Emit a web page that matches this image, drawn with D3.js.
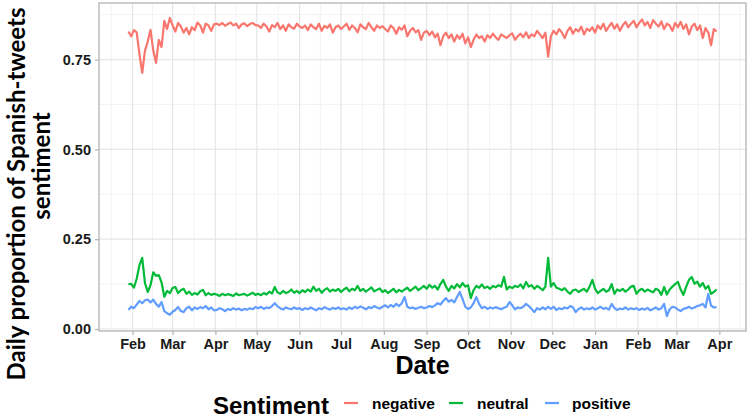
<!DOCTYPE html>
<html>
<head>
<meta charset="utf-8">
<script src="https://cdn.jsdelivr.net/npm/d3@7"></script>
<style>
  body { margin: 0; background: #fff; }
  #chart { width: 749px; height: 418px; }
</style>
</head>
<body>
<div id="chart"></div>
<script>
// daily proportions, one reading every 2 days from 2020-01-29 to 2021-03-30
let startDate = new Date(2020, 0, 29);
let stepDays = 2;

let negative = [
    0.828,0.815,0.832,0.826,0.765,0.713,0.775,0.800,0.833,0.775,0.741,0.805,0.785,0.858,0.835,0.866,
    0.845,0.828,0.852,0.842,0.825,0.838,0.820,0.840,0.832,0.853,0.845,0.825,0.850,0.845,0.830,0.848,
    0.850,0.846,0.852,0.844,0.849,0.853,0.845,0.850,0.838,0.848,0.851,0.843,0.849,0.852,0.846,
    0.845,0.838,0.850,0.842,0.828,0.846,0.840,0.852,0.835,0.845,0.830,0.848,0.840,0.836,0.850,0.842,
    0.838,0.845,0.832,0.848,0.840,0.835,0.850,0.830,0.844,0.838,0.848,0.825,0.840,0.845,0.835,
    0.842,0.850,0.833,0.845,0.838,0.826,0.848,0.840,0.835,0.852,0.840,0.830,0.845,0.838,0.843,
    0.835,0.828,0.845,0.838,0.822,0.840,0.833,0.845,0.815,0.830,0.838,0.826,0.832,0.805,0.825,
    0.830,0.818,0.828,0.812,0.822,0.790,0.815,0.825,0.810,0.820,0.800,0.818,0.808,0.822,0.795,
    0.812,0.785,0.805,0.820,0.810,0.815,0.800,0.818,0.810,0.822,0.812,0.805,0.820,0.815,0.810,
    0.818,0.823,0.805,0.815,0.822,0.812,0.826,0.810,0.820,0.815,0.830,0.820,0.810,0.825,0.758,
    0.815,0.830,0.820,0.835,0.825,0.810,0.830,0.840,0.822,0.835,0.828,0.842,0.820,0.836,0.830,
    0.840,0.825,0.845,0.835,0.850,0.830,0.842,0.852,0.836,0.848,0.830,0.845,0.855,0.840,0.850,
    0.858,0.840,0.852,0.862,0.845,0.855,0.838,0.860,0.850,0.842,0.856,0.835,0.850,0.845,0.830,
    0.852,0.840,0.855,0.835,0.848,0.820,0.842,0.850,0.832,0.845,0.810,0.838,0.825,0.790,0.835,0.828
];

let neutral = [
    0.125,0.126,0.115,0.140,0.178,0.198,0.128,0.103,0.122,0.158,0.148,0.150,0.130,0.090,0.106,0.100,
    0.114,0.117,0.100,0.108,0.112,0.098,0.104,0.095,0.100,0.096,0.105,0.109,0.094,0.100,0.095,0.098,
    0.096,0.092,0.098,0.094,0.097,0.095,0.092,0.099,0.094,0.096,0.098,0.093,0.097,0.101,0.095,
    0.098,0.094,0.100,0.096,0.104,0.099,0.117,0.102,0.098,0.106,0.100,0.103,0.110,0.101,0.106,0.100,
    0.108,0.103,0.110,0.104,0.118,0.106,0.112,0.101,0.109,0.114,0.104,0.110,0.106,0.112,0.103,
    0.110,0.115,0.105,0.112,0.108,0.120,0.106,0.112,0.104,0.110,0.116,0.105,0.109,0.113,0.103,
    0.108,0.100,0.106,0.112,0.102,0.109,0.104,0.110,0.115,0.106,0.112,0.118,0.108,0.114,0.120,
    0.112,0.123,0.115,0.120,0.110,0.125,0.137,0.118,0.106,0.120,0.113,0.125,0.116,0.128,0.118,
    0.122,0.086,0.108,0.120,0.115,0.124,0.114,0.118,0.112,0.120,0.116,0.122,0.118,0.145,0.110,
    0.118,0.114,0.120,0.117,0.124,0.113,0.131,0.118,0.122,0.112,0.120,0.115,0.108,0.118,0.198,
    0.118,0.128,0.115,0.112,0.108,0.114,0.104,0.098,0.108,0.110,0.103,0.108,0.112,0.104,0.118,
    0.137,0.112,0.100,0.106,0.112,0.104,0.108,0.125,0.098,0.110,0.106,0.112,0.104,0.110,0.118,
    0.120,0.098,0.108,0.112,0.104,0.110,0.106,0.102,0.112,0.108,0.095,0.117,0.096,0.110,0.118,
    0.125,0.131,0.110,0.095,0.118,0.137,0.145,0.126,0.132,0.118,0.128,0.112,0.120,0.098,0.103,0.110
];

let positive = [
    0.053,0.062,0.058,0.068,0.078,0.072,0.080,0.082,0.074,0.082,0.070,0.062,0.075,0.050,0.044,0.040,
    0.048,0.053,0.061,0.050,0.047,0.058,0.062,0.052,0.060,0.056,0.061,0.058,0.064,0.055,0.060,0.052,
    0.053,0.058,0.055,0.050,0.056,0.053,0.058,0.054,0.057,0.052,0.056,0.054,0.058,0.055,0.061,
    0.058,0.062,0.056,0.060,0.058,0.064,0.072,0.063,0.058,0.054,0.060,0.057,0.055,0.060,0.056,0.058,
    0.053,0.058,0.055,0.060,0.056,0.052,0.058,0.055,0.061,0.057,0.054,0.059,0.056,0.060,0.055,
    0.058,0.054,0.060,0.056,0.062,0.058,0.063,0.059,0.055,0.061,0.058,0.064,0.060,0.057,0.062,
    0.066,0.060,0.067,0.062,0.070,0.064,0.072,0.089,0.062,0.058,0.060,0.056,0.059,0.062,0.058,
    0.060,0.064,0.061,0.066,0.072,0.068,0.078,0.086,0.076,0.081,0.074,0.089,0.103,0.084,0.062,
    0.056,0.060,0.072,0.089,0.070,0.058,0.062,0.056,0.060,0.057,0.061,0.058,0.055,0.059,0.062,
    0.075,0.066,0.055,0.060,0.058,0.062,0.070,0.064,0.056,0.047,0.058,0.054,0.060,0.055,0.062,
    0.056,0.062,0.053,0.058,0.055,0.060,0.057,0.064,0.060,0.047,0.056,0.060,0.054,0.058,0.055,
    0.060,0.054,0.058,0.062,0.056,0.059,0.054,0.070,0.058,0.053,0.057,0.055,0.060,0.054,0.058,
    0.055,0.058,0.053,0.057,0.054,0.059,0.052,0.056,0.060,0.054,0.058,0.070,0.036,0.055,0.062,
    0.060,0.054,0.050,0.056,0.058,0.062,0.057,0.060,0.064,0.066,0.070,0.060,0.098,0.065,0.060,0.061
];

let sentiments = ["negative", "neutral", "positive"];
let colors = ["#F8766D", "#00BA38", "#619CFF"];
let yTicks = [0, 0.25, 0.5, 0.75];

let series = [negative, neutral, positive].map((vals, k) => ({
    name: sentiments[k],
    values: vals.map((v, i) => ({ date: d3.timeDay.offset(startDate, i * stepDays), value: v }))
}));

let fullWidth = 749, fullHeight = 418;
let margin = { top: 3, right: 3, bottom: 87, left: 99 };
let width = fullWidth - margin.left - margin.right;
let height = fullHeight - margin.top - margin.bottom;

let svg = d3.select("#chart")
    .append("svg")
    .attr("width", fullWidth)
    .attr("height", fullHeight);

let g = svg.append("g")
    .attr("transform", `translate(${margin.left},${margin.top})`);

// ggplot style 5% expansion on both axes
let allPoints = series.flatMap(s => s.values);
let xExt = d3.extent(allPoints, d => d.date);
let xPad = (xExt[1] - xExt[0]) * 0.05;
let x = d3.scaleTime()
    .domain([new Date(+xExt[0] - xPad), new Date(+xExt[1] + xPad)])
    .range([0, width]);

let yExt = d3.extent(allPoints, d => d.value);
let yPad = (yExt[1] - yExt[0]) * 0.05;
let y = d3.scaleLinear()
    .domain([yExt[0] - yPad, yExt[1] + yPad])
    .range([height, 0]);

let monthTicks = d3.timeMonth.range(new Date(2020, 1, 1), new Date(2021, 3, 2));
let minorX = d3.timeMonth.range(new Date(2020, 0, 1), new Date(2021, 4, 2))
    .slice(0, -1)
    .map(d => new Date((+d + +d3.timeMonth.offset(d, 1)) / 2));
let minorY = [0.125, 0.375, 0.625, 0.875];

// grid
g.selectAll(".minor-x")
    .data(minorX.filter(d => x(d) > 0 && x(d) < width))
    .enter().append("line")
    .attr("x1", d => x(d)).attr("x2", d => x(d))
    .attr("y1", 0).attr("y2", height)
    .style("stroke", "#f3f3f3");

g.selectAll(".minor-y")
    .data(minorY.filter(d => y(d) > 0))
    .enter().append("line")
    .attr("x1", 0).attr("x2", width)
    .attr("y1", d => y(d)).attr("y2", d => y(d))
    .style("stroke", "#f3f3f3");

g.selectAll(".major-x")
    .data(monthTicks)
    .enter().append("line")
    .attr("x1", d => x(d)).attr("x2", d => x(d))
    .attr("y1", 0).attr("y2", height)
    .style("stroke", "#e6e6e6")
    .style("stroke-width", 1.2);

g.selectAll(".major-y")
    .data(yTicks)
    .enter().append("line")
    .attr("x1", 0).attr("x2", width)
    .attr("y1", d => y(d)).attr("y2", d => y(d))
    .style("stroke", "#e6e6e6")
    .style("stroke-width", 1.2);

// lines
let line = d3.line()
    .x(d => x(d.date))
    .y(d => y(d.value));

g.selectAll(".series")
    .data(series)
    .enter().append("path")
    .attr("d", d => line(d.values))
    .attr("fill", "none")
    .attr("stroke", (d, i) => colors[i])
    .attr("stroke-width", 2.2)
    .attr("stroke-linejoin", "round");

// panel border
g.append("rect")
    .attr("width", width)
    .attr("height", height)
    .attr("fill", "none")
    .attr("stroke", "#b3b3b3")
    .attr("stroke-width", 1.3);

// axes
let xAxis = g.append("g")
    .attr("transform", `translate(0,${height})`)
    .call(d3.axisBottom(x).tickValues(monthTicks).tickFormat(d3.timeFormat("%b")).tickSize(4).tickPadding(4));

let yAxis = g.append("g")
    .call(d3.axisLeft(y).tickValues(yTicks).tickFormat(d3.format(".2f")).tickSize(4).tickPadding(4));

[xAxis, yAxis].forEach(a => {
    a.select(".domain").remove();
    a.selectAll("line").style("stroke", "#b3b3b3").style("stroke-width", 1.2);
    a.selectAll("text")
        .style("font-family", "'Liberation Sans', Arial, sans-serif")
        .style("font-weight", "bold")
        .style("font-size", "14.5px")
        .style("fill", "#1a1a1a");
});

// axis titles
svg.append("text")
    .attr("x", margin.left + width / 2)
    .attr("y", 374)
    .attr("text-anchor", "middle")
    .style("font-family", "'Liberation Sans Narrow', 'Liberation Sans', Arial, sans-serif")
    .style("font-weight", "bold")
    .style("font-size", "25px")
    .text("Date");

svg.append("text")
    .attr("transform", "translate(25,194) rotate(-90)")
    .attr("text-anchor", "middle")
    .style("font-family", "Lato, 'Open Sans', sans-serif")
    .style("font-weight", "bold")
    .style("font-size", "24px")
    .text("Daily proportion of Spanish-tweets");

svg.append("text")
    .attr("transform", "translate(50,166) rotate(-90)")
    .attr("text-anchor", "middle")
    .style("font-family", "Lato, 'Open Sans', sans-serif")
    .style("font-weight", "bold")
    .style("font-size", "24px")
    .text("sentiment");

// legend
let legend = svg.append("g");

legend.append("text")
    .attr("x", 213)
    .attr("y", 414)
    .style("font-family", "'Liberation Sans', Arial, sans-serif")
    .style("font-weight", "bold")
    .style("font-size", "24px")
    .text("Sentiment");

let keyX = [344, 449, 545];
let labelX = [372, 477, 572];

sentiments.forEach((s, i) => {
    legend.append("line")
        .attr("x1", keyX[i]).attr("x2", keyX[i] + 14)
        .attr("y1", 403).attr("y2", 403)
        .attr("stroke", colors[i])
        .attr("stroke-width", 2.2);
    legend.append("text")
        .attr("x", labelX[i])
        .attr("y", 408.5)
        .style("font-family", "'Liberation Sans', Arial, sans-serif")
        .style("font-weight", "bold")
        .style("font-size", "15.5px")
        .text(s);
});
</script>
</body>
</html>
